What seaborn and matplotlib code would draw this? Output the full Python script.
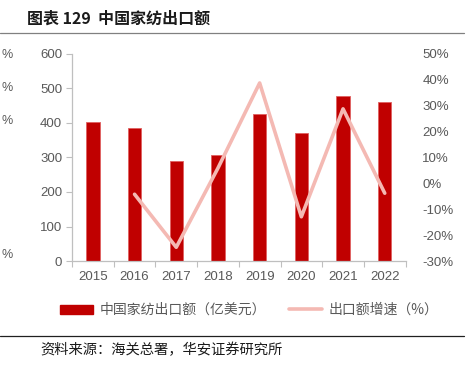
import numpy as np
import pandas as pd
import matplotlib
matplotlib.use('Agg')
import matplotlib.pyplot as plt
import seaborn as sns
from matplotlib.ticker import FuncFormatter, FixedLocator
from matplotlib.patches import Patch
from matplotlib.lines import Line2D

# 数据
years = ['2015', '2016', '2017', '2018', '2019', '2020', '2021', '2022']
export_value = [402, 385, 290, 307, 426, 371, 478, 460]   # 亿美元
growth = [None, -4.2, -24.7, 5.9, 38.8, -12.9, 28.8, -3.8]  # %

bar_color = '#C00000'
line_color = '#F4B9B3'
gray = '#595959'
spine_gray = '#BFBFBF'
cjk = ['Noto Sans CJK SC', 'DejaVu Sans']

sns.set_style('white')
plt.rcParams['font.family'] = ['Liberation Sans', 'Noto Sans CJK SC', 'DejaVu Sans']
plt.rcParams['axes.unicode_minus'] = False

df = pd.DataFrame({'year': years, 'value': export_value,
                   'pos': np.arange(len(years)), 'growth': growth})

fig = plt.figure(figsize=(4.66, 3.69), dpi=100)
ax = fig.add_axes([72 / 466, 1 - 261 / 369, (405.6 - 72) / 466, (261 - 54) / 369])

sns.barplot(data=df, x='year', y='value', color=bar_color, width=0.32,
            saturation=1, edgecolor='#E06060', linewidth=0.6, ax=ax)
ax.set_xlim(-0.5, len(years) - 0.5)
ax.set_ylim(0, 600)
ax.set_yticks(range(0, 601, 100))
ax.set_xlabel('')
ax.set_ylabel('')

for s in ['top', 'right']:
    ax.spines[s].set_visible(False)
for s in ['left', 'bottom']:
    ax.spines[s].set_color(spine_gray)
    ax.spines[s].set_linewidth(0.9)

ax.tick_params(axis='y', colors=gray, labelsize=9.5, length=4, width=0.8,
               color=spine_gray, direction='out', pad=3, left=True)
ax.tick_params(axis='x', which='major', colors=gray, labelsize=9.5, length=0, pad=7)
ax.xaxis.set_minor_locator(FixedLocator(np.arange(-0.5, len(years), 1.0)))
ax.tick_params(axis='x', which='minor', length=4, width=0.8, color=spine_gray,
               direction='out', bottom=True)

ax2 = ax.twinx()
sns.lineplot(data=df.dropna(), x='pos', y='growth', color=line_color,
             linewidth=2.6, ax=ax2, legend=False)
ax2.set_ylim(-30, 50)
ax2.set_yticks(range(-30, 51, 10))
ax2.yaxis.set_major_formatter(FuncFormatter(lambda v, p: f'{v:.0f}%'))
ax2.set_xlim(-0.5, len(years) - 0.5)
ax2.set_ylabel('')
ax2.set_xlabel('')
for s in ax2.spines.values():
    s.set_visible(False)
ax2.tick_params(axis='y', colors=gray, labelsize=9.5, length=0, pad=12)

# 标题
fig.text(27 / 466, 1 - 19 / 369, '图表 129  中国家纺出口额', fontsize=11.5,
         fontweight='bold', color='#1a1a1a', va='center', ha='left', family=cjk)
fig.add_artist(Line2D([0, 464 / 466], [1 - 33 / 369] * 2, color='#808080', lw=0.9))

# 图例
handles = [Patch(facecolor=bar_color, edgecolor=bar_color),
           Line2D([0], [0], color=line_color, lw=2.6)]
labels = ['中国家纺出口额（亿美元）', '出口额增速（%）']
fig.legend(handles, labels, loc='center', bbox_to_anchor=(0.535, 1 - 310 / 369),
           ncol=2, frameon=False, labelcolor=gray,
           handlelength=2.4, handleheight=0.6, handletextpad=0.5, columnspacing=1.6,
           prop={'family': cjk, 'size': 10})

# 底部来源
fig.add_artist(Line2D([0, 464 / 466], [1 - 336 / 369] * 2, color='#202020', lw=0.9))
fig.text(40 / 466, 1 - 350 / 369, '资料来源：海关总署，华安证券研究所', fontsize=10.3,
         color='#1a1a1a', va='center', ha='left', family=cjk)

# 左侧残留的相邻图表刻度
for yy in [55, 88, 121, 255]:
    fig.text(1 / 466, 1 - yy / 369, '%', fontsize=9, color=gray, ha='left', va='center')

fig.savefig('out.png', dpi=100)
